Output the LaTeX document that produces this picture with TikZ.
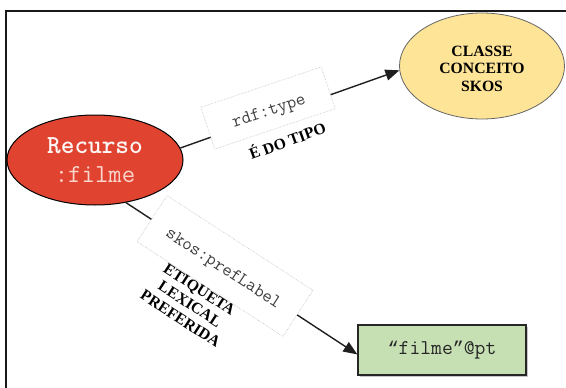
\documentclass[tikz,border=0pt]{standalone}
\usepackage{fontspec}
\setmainfont{Liberation Serif}
\newfontfamily\quotefont{Liberation Mono}
\usetikzlibrary{shapes.geometric,arrows.meta,shadows}

\definecolor{recred}{RGB}{224,68,48}
\definecolor{recpink}{RGB}{250,214,205}
\definecolor{clsyellow}{RGB}{254,228,150}
\definecolor{litgreen}{RGB}{198,224,180}

\begin{document}
\begin{tikzpicture}[x=1pt,y=-1pt,
  conn/.style={line width=1.4pt, draw=black!88},
  tip/.style={-{Triangle[length=14pt,width=11pt]}},
  relbox/.style={draw=black!30, densely dotted, line width=0.5pt, fill=white, inner sep=0pt,
    font=\ttfamily\fontsize{18.5}{20}\selectfont, text=black!75, text height=15pt, text depth=0pt},
  caption/.style={font=\bfseries\fontsize{15.7}{17.4}\selectfont, align=center},
]
\useasboundingbox (0,0) rectangle (566,388);

% open frame
\draw[line width=1.3pt, black!90] (6,388) -- (6,11) -- (566,11);

% nodes
\node[ellipse, draw=black, line width=1pt, fill=recred, minimum width=176pt, minimum height=90pt,
  inner sep=0pt, align=center, text=white!95!recred, font=\ttfamily\fontsize{26}{29}\selectfont]
  (rec) at (95,160) {{\bfseries Recurso}\\{\color{recpink}:filme}};

\node[ellipse, draw=black!60, line width=0.8pt, fill=clsyellow, minimum width=165pt, minimum height=106pt,
  inner sep=0pt, caption]
  (cls) at (482,66) {\rule{0pt}{16pt}CLASSE\\CONCEITO\\SKOS};

\node[rectangle, draw=black!85, line width=1.2pt, fill=litgreen, minimum width=168pt, minimum height=50pt,
  drop shadow={shadow xshift=1.5pt, shadow yshift=-1.5pt, opacity=0.45},
  font=\ttfamily\fontsize{21}{22}\selectfont, text=black!85]
  (lit) at (442,350) {{\quotefont\fontsize{18.5}{22}\selectfont “}filme{\quotefont\fontsize{18.5}{22}\selectfont ”}@pt};

% connectors
\draw[conn,tip] (rec.8) -- (cls.183);
\draw[conn,tip] (rec.-54) -- (lit.183);

% relation labels
\node[relbox, rotate=18.5, minimum width=127pt, minimum height=44pt] (b1) at (268,108) {rdf:type};
\node[relbox, rotate=-33, minimum width=174pt, minimum height=55pt] (b2) at (225,266) {skos:prefLabel};

\node[caption, rotate=20] (c1) at (287,140) {É DO TIPO};
\node[caption, rotate=-33] (c2) at (190,304) {ETIQUETA\\LEXICAL\\PREFERIDA};
\end{tikzpicture}
\end{document}
